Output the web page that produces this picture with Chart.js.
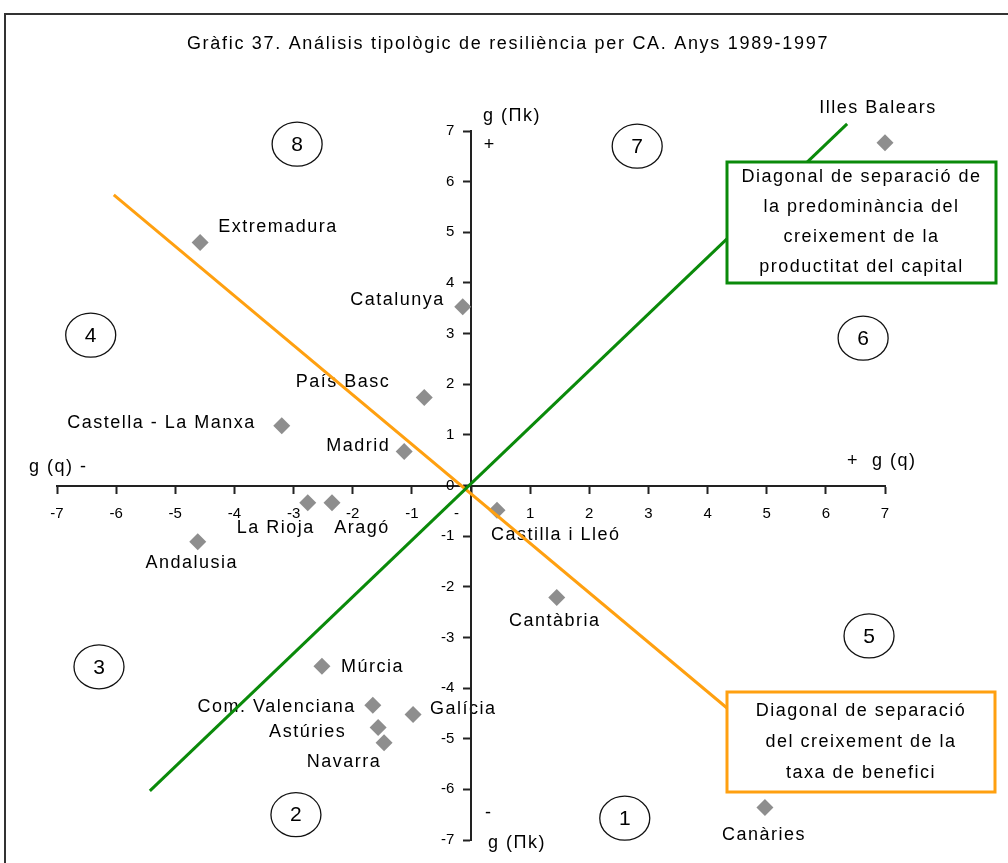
<!DOCTYPE html>
<html>
<head>
<meta charset="utf-8">
<script src="https://cdn.jsdelivr.net/npm/chart.js@4.4.1/dist/chart.umd.min.js"></script>
<style>
  html, body { margin: 0; padding: 0; background: #fff; }
</style>
</head>
<body>
<canvas id="chart" width="1008" height="863"></canvas>
<script>
/* ---- data ---- */
const regions = ['Illes Balears', 'Extremadura', 'Catalunya', 'País Basc', 'Castella - La Manxa',
  'Madrid', 'La Rioja', 'Aragó', 'Andalusia', 'Castilla i Lleó', 'Cantàbria', 'Múrcia',
  'Com. Valenciana', 'Galícia', 'Astúries', 'Navarra', 'Canàries'];
const gQ  = [7.0, -4.58, -0.14, -0.79, -3.20, -1.13, -2.76, -2.35, -4.62, 0.44, 1.45, -2.52, -1.66, -0.98, -1.57, -1.47, 4.97];
const gPk = [6.77, 4.80, 3.53, 1.74, 1.18, 0.67, -0.34, -0.34, -1.11, -0.49, -2.21, -3.57, -4.34, -4.52, -4.78, -5.08, -6.36];

// separation diagonals (end points)
const greenDiagX = [-5.43, 6.36];
const greenDiagY = [-6.03, 7.14];
const orangeDiagX = [-6.04, 5.0];
const orangeDiagY = [5.74, -5.05];

// quadrant numbers and where they sit
const zoneNames = ['8', '7', '4', '6', '3', '5', '2', '1'];
const zoneX = [-2.94, 2.81, -6.43, 6.63, -6.29, 6.73, -2.96, 2.60];
const zoneY = [6.74, 6.70, 2.97, 2.91, -3.58, -2.97, -6.50, -6.57];

const axisTicks = [-7, -6, -5, -4, -3, -2, -1, 0, 1, 2, 3, 4, 5, 6, 7];

const title = 'Gràfic 37. Análisis tipològic de resiliència per CA. Anys 1989-1997';
const greenNote = ['Diagonal de separació de', 'la predominància del', 'creixement de la', 'productitat del capital'];
const orangeNote = ['Diagonal de separació', 'del creixement de la', 'taxa de benefici'];

/* ---- label placement (px offsets from the point) ---- */
const labelDx = [-7, 18, -18, -34, -26, -14, -32, 30, -6, -6, -2, 19, -17, 17, -32, -40, -1];
const labelDy = [-35, -15, -7, -15, -3, -6, 25, 25, 21, 25, 24, 1, 2, -5, 4, 19, 27];
const labelAlign = ['center', 'left', 'right', 'right', 'right', 'right', 'center', 'center', 'center',
  'left', 'center', 'left', 'right', 'left', 'right', 'center', 'center'];

const FONT = '"Liberation Sans", Arial, sans-serif';
const GREEN = '#0a8a0a';
const ORANGE = '#ffa010';
const AXIS = '#222';

function drawText(ctx, s, x, y, size, align, spacing) {
  ctx.save();
  ctx.font = size + 'px ' + FONT;
  ctx.fillStyle = '#000';
  ctx.textAlign = align || 'center';
  ctx.textBaseline = 'middle';
  ctx.letterSpacing = (spacing == null ? 1.5 : spacing) + 'px';
  ctx.fillText(s, x, y);
  ctx.restore();
}

function noteBox(ctx, lines, left, top, right, bottom, color, step) {
  ctx.save();
  ctx.fillStyle = '#fff';
  ctx.fillRect(left, top, right - left, bottom - top);
  ctx.strokeStyle = color;
  ctx.lineWidth = 3;
  ctx.strokeRect(left, top, right - left, bottom - top);
  ctx.restore();
  const cx = (left + right) / 2, cy = (top + bottom) / 2;
  lines.forEach((l, i) => {
    drawText(ctx, l, cx, cy + (i - (lines.length - 1) / 2) * step, 18, 'center');
  });
}

const decorations = {
  id: 'decorations',
  beforeDraw(chart) {
    const ctx = chart.ctx;
    const xs = chart.scales.x, ys = chart.scales.y;
    // outer frame
    ctx.save();
    ctx.strokeStyle = '#333';
    ctx.lineWidth = 2;
    ctx.strokeRect(5, 14, 1100, 1000);
    ctx.restore();
    drawText(ctx, title, 508, 44, 18, 'center', 1.7);
    // point labels (under axes and lines, like the original)
    regions.forEach((r, i) => {
      const px = xs.getPixelForValue(gQ[i]);
      const py = ys.getPixelForValue(gPk[i]);
      drawText(ctx, r, px + labelDx[i], py + labelDy[i], 18, labelAlign[i]);
    });
  },
  afterDatasetsDraw(chart) {
    const ctx = chart.ctx;
    const xs = chart.scales.x, ys = chart.scales.y;
    const ox = xs.getPixelForValue(0), oy = ys.getPixelForValue(0);
    const area = chart.chartArea;

    // axis end labels
    drawText(ctx, 'g (Πk)', ox + 41, area.top - 15, 18, 'center');
    drawText(ctx, '+', ox + 18, area.top + 14, 18, 'center', 0);
    drawText(ctx, '-', ox + 17, area.bottom - 27, 18, 'center', 0);
    drawText(ctx, 'g (Πk)', ox + 46, area.bottom + 3, 18, 'center');
    drawText(ctx, 'g (q) -', area.left - 28, oy - 18, 18, 'left');
    drawText(ctx, '+  g (q)', area.right - 38, oy - 24, 18, 'left');

    // quadrant circles
    zoneNames.forEach((n, i) => {
      const cx = xs.getPixelForValue(zoneX[i]);
      const cy = ys.getPixelForValue(zoneY[i]);
      ctx.save();
      ctx.beginPath();
      ctx.ellipse(cx, cy, 25, 22, 0, 0, Math.PI * 2);
      ctx.fillStyle = '#fff';
      ctx.fill();
      ctx.strokeStyle = '#111';
      ctx.lineWidth = 1.3;
      ctx.stroke();
      ctx.restore();
      drawText(ctx, n, cx, cy + 1, 21, 'center', 0);
    });

    noteBox(ctx, greenNote, 727, 162, 996, 283, GREEN, 30);
    noteBox(ctx, orangeNote, 727, 692, 995, 792, ORANGE, 31);
  }
};

const tickFont = { family: FONT, size: 15 };

new Chart(document.getElementById('chart'), {
  type: 'scatter',
  data: {
    datasets: [
      {
        type: 'line', clip: false,
        data: greenDiagX.map((x, i) => ({ x, y: greenDiagY[i] })),
        borderColor: GREEN, borderWidth: 3, pointRadius: 0, fill: false
      },
      {
        type: 'line', clip: false,
        data: orangeDiagX.map((x, i) => ({ x, y: orangeDiagY[i] })),
        borderColor: ORANGE, borderWidth: 3, pointRadius: 0, fill: false
      },
      {
        clip: false,
        data: gQ.map((x, i) => ({ x, y: gPk[i] })),
        pointStyle: 'rectRot', pointRadius: 8.5,
        backgroundColor: '#8e8e8e', borderWidth: 0
      }
    ]
  },
  options: {
    responsive: false,
    animation: false,
    events: [],
    layout: { padding: { left: 57, right: 123, top: 131, bottom: 23 } },
    plugins: { legend: { display: false }, tooltip: { enabled: false }, title: { display: false } },
    scales: {
      x: {
        type: 'linear', min: -7, max: 7, position: { y: 0 },
        afterFit: s => { s.height = 0; },
        afterBuildTicks: s => { s.ticks = axisTicks.map(v => ({ value: v })); },
        // the 0 label reads as a small dash just left of the vertical axis
        ticks: { font: tickFont, color: '#000', padding: 12, autoSkip: false, maxRotation: 0,
                 callback: v => (v === 0 ? '-       ' : v) },
        grid: { drawOnChartArea: false, drawTicks: true, tickLength: 7, tickWidth: 2, tickColor: AXIS },
        border: { display: true, color: AXIS, width: 2 }
      },
      y: {
        type: 'linear', min: -7, max: 7, position: { x: 0 },
        afterFit: s => { s.width = 0; },
        afterBuildTicks: s => { s.ticks = axisTicks.map(v => ({ value: v })); },
        // labels of a centred axis sit right on the line, so pad them out with spaces
        ticks: { font: tickFont, color: '#000', autoSkip: false,
                 callback: v => v + '    ' },
        grid: { drawOnChartArea: false, drawTicks: true, tickLength: 7, tickWidth: 2, tickColor: AXIS },
        border: { display: true, color: AXIS, width: 2 }
      }
    }
  },
  plugins: [decorations]
});
</script>
</body>
</html>
